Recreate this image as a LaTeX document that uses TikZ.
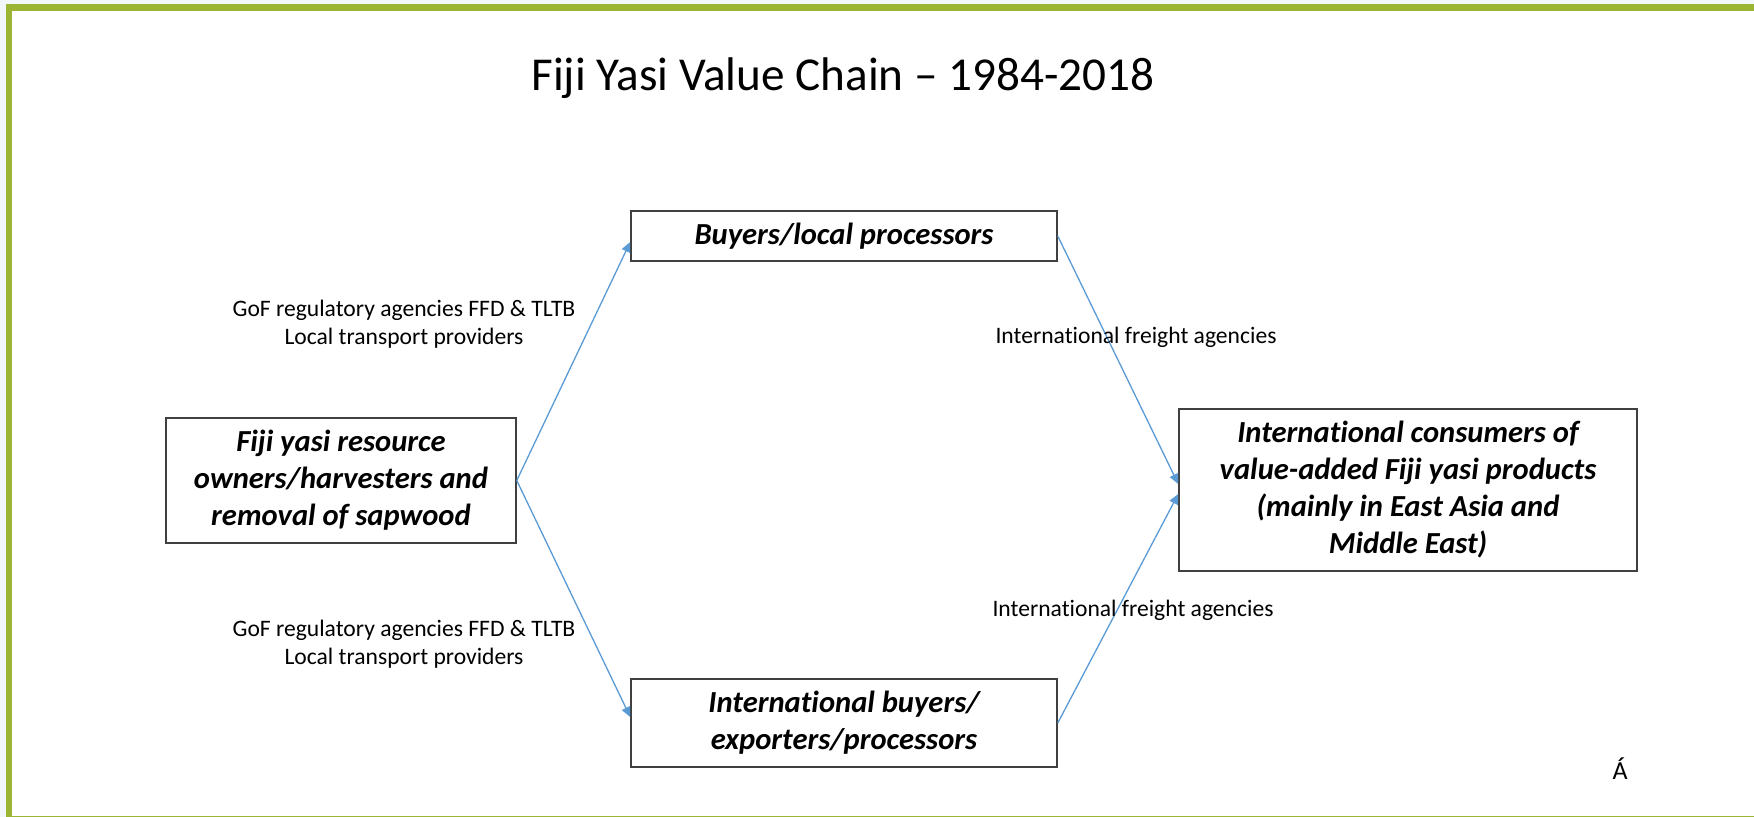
\documentclass[tikz,border=0pt]{standalone}
\usepackage{fontspec}
\setmainfont[Ligatures=NoCommon]{Carlito}
\usetikzlibrary{arrows.meta}
\definecolor{framegreen}{HTML}{9DB535}
\definecolor{outerbg}{HTML}{F2F7FA}
\definecolor{arrowblue}{HTML}{5B9BD5}
\definecolor{boxgray}{HTML}{404040}
\newcommand{\Intl}{Internat\kern0pt ional}
\tikzset{
  box/.style={draw=boxgray, line width=0.75pt, fill=white, align=center, inner sep=2pt,
    font=\fontsize{15.3pt}{18.5pt}\selectfont\bfseries\itshape},
  lbl/.style={align=center, inner sep=0pt, font=\fontsize{11.8pt}{14pt}\selectfont},
  conn/.style={draw=arrowblue, line width=0.65pt, -{Triangle[length=5pt,width=4.5pt]}},
}
\begin{document}
\begin{tikzpicture}[x=0.5pt,y=-0.5pt]
\useasboundingbox (0,0) rectangle (1754,817);
\fill[outerbg] (0,0) rectangle (1754,817);
\fill[white] (12,11) rectangle (1754,815.5);
\fill[framegreen] (6,4) rectangle (12,817);
\fill[framegreen] (6,4) rectangle (1754,11);
\fill[framegreen] (6,815.5) rectangle (1754,817);

\node[anchor=base, inner sep=0pt, font=\fontsize{23.6pt}{28pt}\selectfont] (title) at (843,91) {Fiji Yasi Value Chain -- 1984-2018};

\node[box, minimum width=175pt, minimum height=62.5pt] (L) at (341,480.5) {Fiji yasi resource\\owners/harvesters and\\removal of sapwood};
\node[box, minimum width=213pt, minimum height=25pt] (T) at (844,236) {Buyers/local processors};
\node[box, minimum width=213pt, minimum height=44pt] (B) at (844,723) {\Intl{} buyers/\\exporters/processors};
\node[box, minimum width=229pt, minimum height=81pt] (R) at (1408,490) {\Intl{} consumers of\\value-added Fiji yasi products\\(mainly in East Asia and\\Middle East)};

\draw[conn] (L.east) -- ([yshift=-3pt]T.west);
\draw[conn] (L.east) -- ([yshift=3pt]B.west);
\draw[conn] (T.east) -- ([yshift=3pt]R.west);
\draw[conn] (B.east) -- ([yshift=-2pt]R.west);

\node[lbl] (g1) at (404,324) {GoF regulatory agencies FFD \& TLTB\\Local transport providers};
\node[lbl] (g2) at (404,644) {GoF regulatory agencies FFD \& TLTB\\Local transport providers};
\node[lbl, anchor=base] (f1) at (1136,344) {\Intl{} freight agencies};
\node[lbl, anchor=base] (f2) at (1133,616) {\Intl{} freight agencies};

\node[anchor=base, inner sep=0pt, font=\fontsize{13pt}{15pt}\selectfont] (acc) at (1620,779) {Á};
\end{tikzpicture}
\end{document}
